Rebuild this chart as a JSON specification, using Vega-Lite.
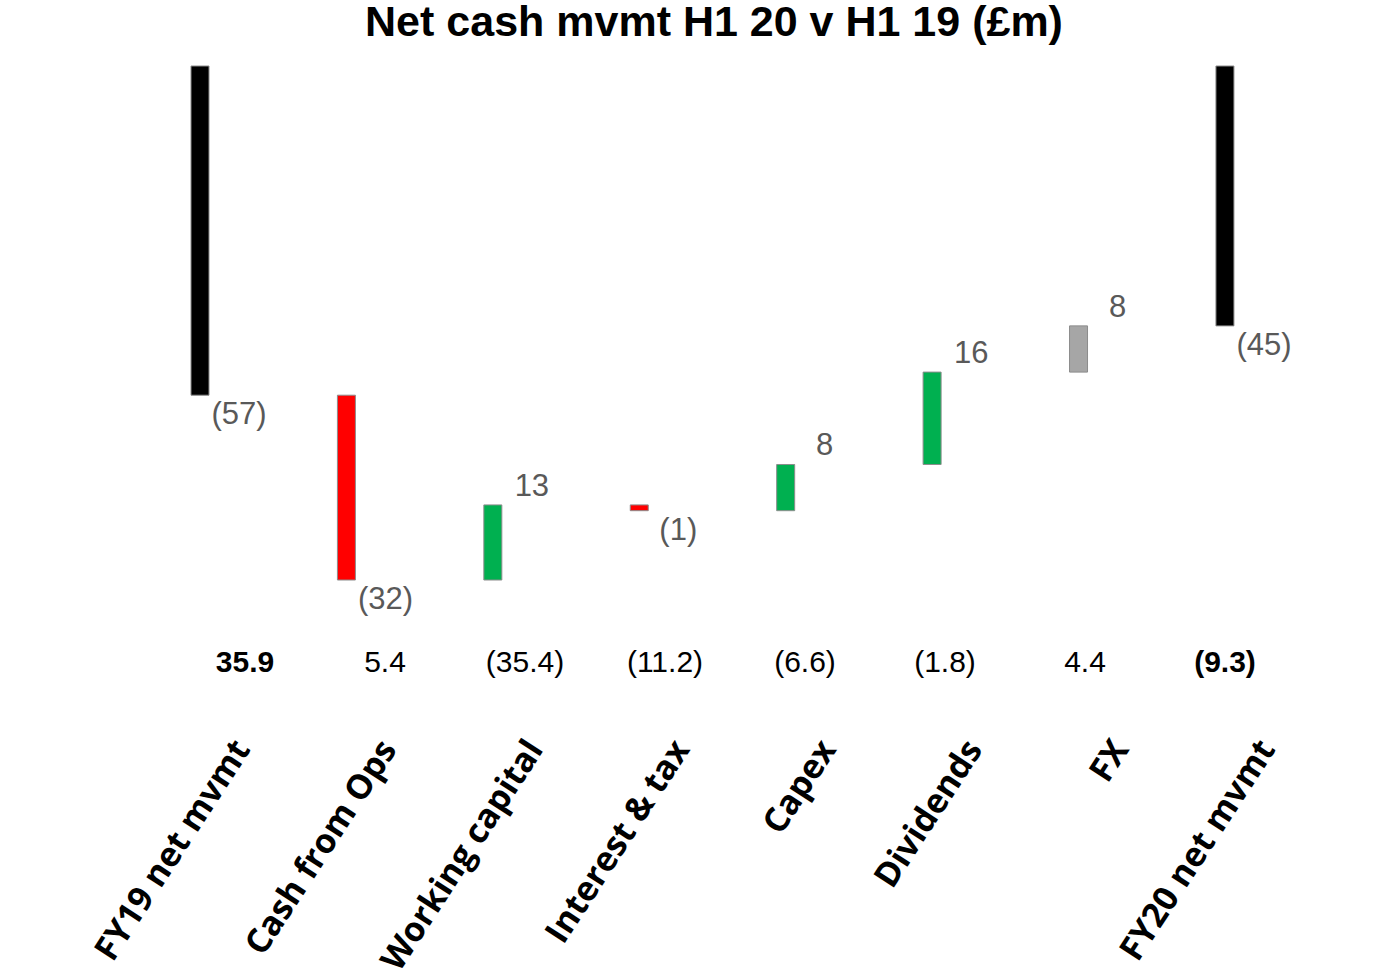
{
  "$schema": "https://vega.github.io/schema/vega-lite/v6.json",
  "width": 1400,
  "height": 975,
  "autosize": "none",
  "padding": 0,
  "background": "white",
  "config": {"view": {"stroke": null}},
  "title": {
    "text": "Net cash mvmt H1 20 v H1 19 (£m)",
    "font": "Liberation Sans",
    "fontSize": 43,
    "fontWeight": "bold",
    "color": "#000000",
    "anchor": "middle",
    "dx": 14,
    "offset": -45
  },
  "data": {
    "values": [
      {"cat": "FY19 net mvmt", "start": 0, "end": -57, "amount": -57, "kind": "total", "cashflow": 35.9},
      {"cat": "Cash from Ops", "start": -57, "end": -89, "amount": -32, "kind": "decrease", "cashflow": 5.4},
      {"cat": "Working capital", "start": -89, "end": -76, "amount": 13, "kind": "increase", "cashflow": -35.4},
      {"cat": "Interest & tax", "start": -76, "end": -77, "amount": -1, "kind": "decrease", "cashflow": -11.2},
      {"cat": "Capex", "start": -77, "end": -69, "amount": 8, "kind": "increase", "cashflow": -6.6},
      {"cat": "Dividends", "start": -69, "end": -53, "amount": 16, "kind": "increase", "cashflow": -1.8},
      {"cat": "FX", "start": -53, "end": -45, "amount": 8, "kind": "fx", "cashflow": 4.4},
      {"cat": "FY20 net mvmt", "start": 0, "end": -45, "amount": -45, "kind": "total", "cashflow": -9.3}
    ]
  },
  "layer": [
    {
      "mark": {"type": "bar", "stroke": "#8C8C8C", "strokeWidth": 1},
      "encoding": {
        "x": {
          "field": "cat",
          "type": "nominal",
          "sort": null,
          "axis": null,
          "scale": {
            "type": "band",
            "domain": ["FY19 net mvmt", "Cash from Ops", "Working capital", "Interest & tax", "Capex", "Dividends", "FX", "FY20 net mvmt"],
            "range": [191, 1312],
            "paddingInner": 0.344,
            "paddingOuter": 0
          }
        },
        "y": {
          "field": "start",
          "type": "quantitative",
          "axis": null,
          "scale": {"domain": [-89, 0], "range": [580, 66], "nice": false, "zero": false}
        },
        "y2": {"field": "end"},
        "color": {
          "field": "kind",
          "type": "nominal",
          "legend": null,
          "scale": {
            "domain": ["total", "increase", "decrease", "fx"],
            "range": ["#000000", "#00B050", "#FF0000", "#A6A6A6"]
          }
        }
      }
    },
    {
      "transform": [{"filter": "datum.amount > 0"}],
      "mark": {"type": "text", "font": "Liberation Sans", "fontSize": 31, "color": "#595959", "baseline": "alphabetic", "dy": -9},
      "encoding": {
        "x": {"field": "cat", "type": "nominal"},
        "y": {"field": "end", "type": "quantitative"},
        "text": {"field": "amount", "type": "quantitative", "format": "(d"}
      }
    },
    {
      "transform": [{"filter": "datum.amount < 0"}],
      "mark": {"type": "text", "font": "Liberation Sans", "fontSize": 31, "color": "#595959", "baseline": "top", "dy": 5},
      "encoding": {
        "x": {"field": "cat", "type": "nominal"},
        "y": {"field": "end", "type": "quantitative"},
        "text": {"field": "amount", "type": "quantitative", "format": "(d"}
      }
    },
    {
      "mark": {"type": "text", "font": "Open Sans", "fontWeight": "bold", "fontSize": 34, "color": "#000000", "angle": 303, "align": "right", "baseline": "middle", "xOffset": 4},
      "encoding": {
        "x": {"field": "cat", "type": "nominal"},
        "y": {"datum": -117.4, "type": "quantitative"},
        "text": {"field": "cat"}
      }
    },
    {
      "transform": [{"filter": "datum.kind != 'total'"}],
      "mark": {"type": "text", "font": "Liberation Sans", "fontSize": 30, "color": "#000000", "baseline": "middle"},
      "encoding": {
        "x": {"datum": "FY19 net mvmt", "type": "nominal"},
        "xOffset": {
          "field": "cat",
          "type": "nominal",
          "scale": {
            "type": "point",
            "domain": ["Cashflow", "FY19 net mvmt", "Cash from Ops", "Working capital", "Interest & tax", "Capex", "Dividends", "FX", "FY20 net mvmt"],
            "range": [-86, 1034],
            "padding": 0
          }
        },
        "y": {"datum": -103.4, "type": "quantitative"},
        "text": {"field": "cashflow", "type": "quantitative", "format": "(.1f"}
      }
    },
    {
      "transform": [{"filter": "datum.kind == 'total'"}],
      "mark": {"type": "text", "font": "Liberation Sans", "fontWeight": "bold", "fontSize": 30, "color": "#000000", "baseline": "middle"},
      "encoding": {
        "x": {"datum": "FY19 net mvmt", "type": "nominal"},
        "xOffset": {"field": "cat", "type": "nominal"},
        "y": {"datum": -103.4, "type": "quantitative"},
        "text": {"field": "cashflow", "type": "quantitative", "format": "(.1f"}
      }
    }
  ]
}
